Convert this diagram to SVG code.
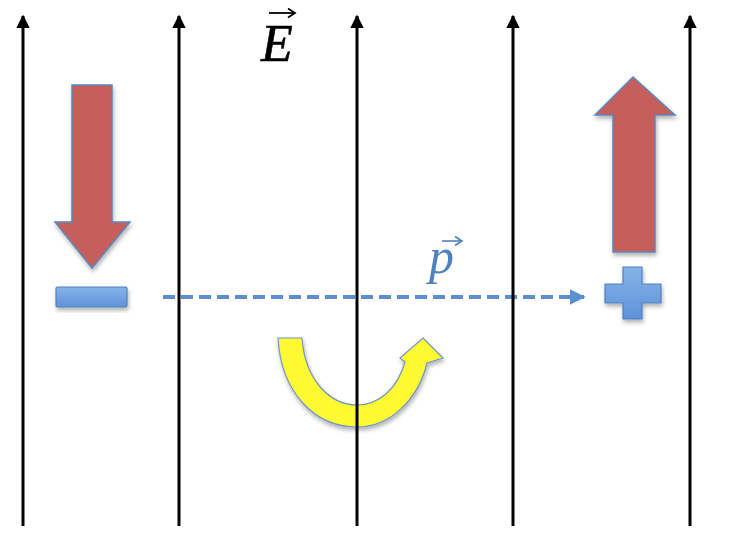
<svg xmlns="http://www.w3.org/2000/svg" width="730" height="546" viewBox="0 0 730 546">
<defs>
<style>
.fl{stroke:#000;stroke-width:3;fill:none}
.red{fill:#C65F5B;stroke:#5B86BE;stroke-width:1.5}
.sign{fill:url(#bg);stroke:#4F81BD;stroke-width:1.2}
.lbl{font-family:"Liberation Serif","DejaVu Serif",serif;font-style:italic}
</style>
<linearGradient id="bg" x1="0" y1="0" x2="0" y2="1">
<stop offset="0" stop-color="#86B3EA"/>
<stop offset="1" stop-color="#5E92D8"/>
</linearGradient>
<filter id="sh" x="-30%" y="-30%" width="160%" height="160%">
<feDropShadow dx="1" dy="3" stdDeviation="2" flood-color="#000" flood-opacity="0.3"/>
</filter>
<marker id="ah" viewBox="0 0 10 10" refX="9" refY="5" markerWidth="4.5" markerHeight="4.5" orient="auto" markerUnits="strokeWidth">
<path d="M0,0 L10,5 L0,10 Z" fill="#000"/>
</marker>
<marker id="bh" viewBox="0 0 10 10" refX="9" refY="5" markerWidth="4" markerHeight="4" orient="auto" markerUnits="strokeWidth">
<path d="M0,0 L10,5 L0,10 Z" fill="#5B8FCF"/>
</marker>
</defs>
<g id="force-down" filter="url(#sh)">
<path class="red" d="M72,85 L112,85 L112,222 L130,222 L92,268 L55,222 L72,222 Z"/>
</g>
<g id="force-up" filter="url(#sh)">
<path class="red" d="M613,252 L655,252 L655,115 L675,115 L633,77 L595,115 L613,115 Z"/>
</g>
<g id="minus" filter="url(#sh)">
<rect class="sign" x="56" y="287" width="71" height="20" rx="1.5"/>
</g>
<g id="plus" filter="url(#sh)">
<path class="sign" d="M623,267 L642,267 L642,284 L661,284 L661,303 L642,303 L642,319 L623,319 L623,303 L605,303 L605,284 L623,284 Z"/>
</g>
<g id="rotation" filter="url(#sh)">
<path d="M278,338 L302,338 C305,380 330,405 357,405 C378,405 397,390 405,362 L400,358 L423,338 L443,358 L427,363 C418,400 390,427 357,427 C314,427 281,392 278,338 Z" fill="#FFFA33" stroke="#6F95C4" stroke-width="1.2"/>
</g>
<g id="connectors">
<line x1="163" y1="297" x2="584" y2="297" stroke="#5B8FCF" stroke-width="4" stroke-dasharray="12 6" marker-end="url(#bh)"/>
</g>
<g id="p-label">
<text class="lbl" x="429" y="273" font-size="50" fill="#4F81BD">p</text>
<line x1="442" y1="241" x2="461" y2="241" stroke="#4F81BD" stroke-width="1.6"/>
<path d="M455,236.5 L462,241 L455,245.5" fill="none" stroke="#4F81BD" stroke-width="1.6"/>
</g>
<g id="field-lines">
<line class="fl" x1="23" y1="526" x2="23" y2="16" marker-end="url(#ah)"/>
<line class="fl" x1="179" y1="526" x2="179" y2="16" marker-end="url(#ah)"/>
<line class="fl" x1="357" y1="526" x2="357" y2="16" marker-end="url(#ah)"/>
<line class="fl" x1="513" y1="526" x2="513" y2="16" marker-end="url(#ah)"/>
<line class="fl" x1="690" y1="526" x2="690" y2="16" marker-end="url(#ah)"/>
</g>
<g id="E-label">
<text class="lbl" x="261" y="61" font-size="52" fill="#000" stroke="#000" stroke-width="0.6">E</text>
<line x1="269" y1="13" x2="294" y2="13" stroke="#000" stroke-width="1.8"/>
<path d="M288,8.5 L295,13 L288,17.5" fill="none" stroke="#000" stroke-width="1.8"/>
</g>
</svg>
